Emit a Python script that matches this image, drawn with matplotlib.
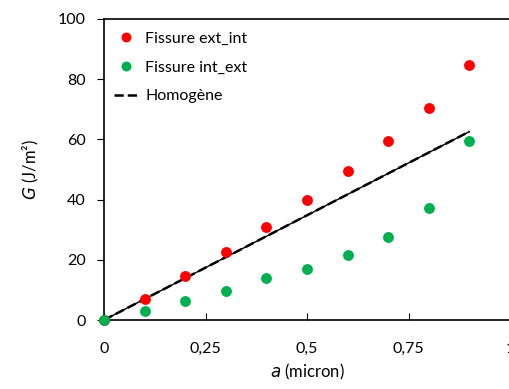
import numpy as np
import matplotlib.pyplot as plt

# values
a_vals = [0, 0.1, 0.2, 0.3, 0.4, 0.5, 0.6, 0.7, 0.8, 0.9]
G_ext_int = [0, 7.0, 14.6, 22.6, 30.9, 40.0, 49.4, 59.4, 70.5, 84.8]
G_int_ext = [0, 3.0, 6.3, 9.6, 14.0, 17.0, 21.6, 27.7, 37.3, 59.4]
a_homog = [0, 0.9]
G_homog = [0, 62.6]

x_ticks = [0, 0.25, 0.5, 0.75, 1]
x_labels = ['0', '0,25', '0,5', '0,75', '1']
y_ticks = [0, 20, 40, 60, 80, 100]

plt.rcParams['font.family'] = ['Lato', 'DejaVu Sans']

fig = plt.figure(figsize=(5.09, 3.89), dpi=100)
ax = fig.add_axes([104 / 509, 1 - 320 / 389, 406 / 509, 301 / 389])

ax.plot(a_vals, G_ext_int, 'o', color='#FF0000', markersize=6.8, label='Fissure ext_int', clip_on=False, zorder=3)
ax.plot(a_vals, G_int_ext, 'o', color='#00B050', markersize=6.8, label='Fissure int_ext', clip_on=False, zorder=3)
ax.plot(a_homog, G_homog, color='black', linewidth=1, zorder=2)
ax.plot(a_homog, G_homog, '--', color='black', linewidth=1.8, label='Homogène', zorder=2)

ax.set_xlim(0, 1)
ax.set_ylim(0, 100)
ax.set_xticks(x_ticks)
ax.set_xticklabels(x_labels)
ax.set_yticks(y_ticks)
ax.tick_params(axis='x', direction='in', length=5, pad=16, labelsize=11.5)
ax.tick_params(axis='y', direction='out', length=5, pad=8, labelsize=11.5)
for s in ax.spines.values():
    s.set_linewidth(1.2)

ax.set_xlabel('$\\it{a}$ (micron)', fontsize=12, labelpad=4)
ax.set_ylabel('$\\it{G}$ (J/m²)', fontsize=12, labelpad=12)

ax.legend(loc='upper left', frameon=False,
          fontsize=11.5, handlelength=1.6, handletextpad=0.4, labelspacing=0.9,
          bbox_to_anchor=(-0.012, 1.005), markerscale=0.9)

fig.savefig('out.png', dpi=100)
